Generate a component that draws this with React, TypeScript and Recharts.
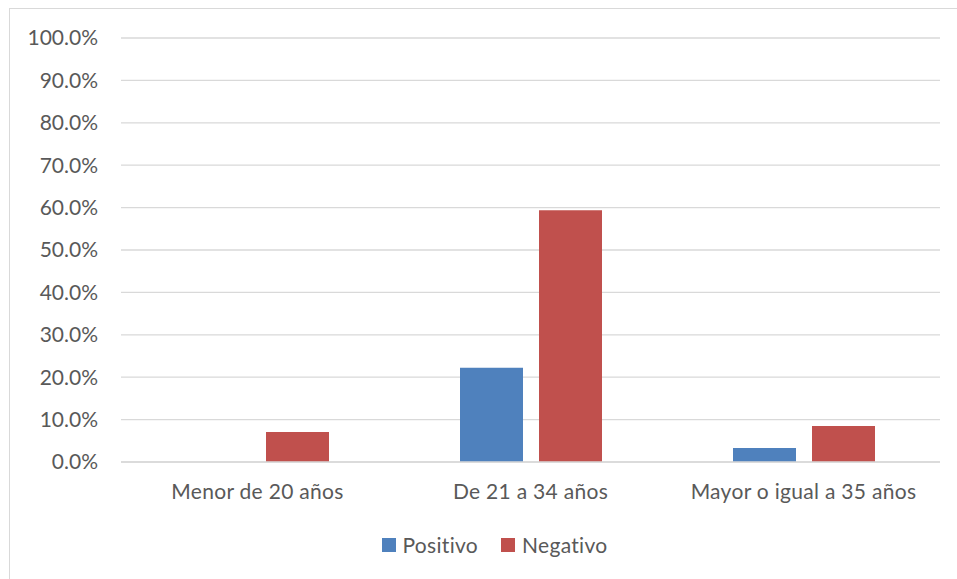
import React from "react";
import { BarChart, Bar, XAxis, YAxis, CartesianGrid, Legend } from "recharts";

const categorias = ["Menor de 20 años", "De 21 a 34 años", "Mayor o igual a 35 años"];
const positivo = [0, 0.222, 0.033];
const negativo = [0.071, 0.594, 0.085];
const yTicks = [0, 0.1, 0.2, 0.3, 0.4, 0.5, 0.6, 0.7, 0.8, 0.9, 1];
const series = [
  { key: "Positivo", color: "#4F81BD" },
  { key: "Negativo", color: "#C0504D" },
];

const data = categorias.map((cat, i) => ({
  cat,
  Positivo: positivo[i],
  Negativo: negativo[i],
}));

const FONT = "Lato, 'Open Sans', sans-serif";
const TEXT = "#595959";
const GRID = "#D9D9D9";

// legend drawn in series order (recharts sorts by name otherwise)
function Leyenda() {
  return (
    <div style={{ display: "flex", justifyContent: "center", alignItems: "center", gap: 23, paddingLeft: 32, fontSize: 21, color: TEXT, fontFamily: FONT, letterSpacing: 0.3 }}>
      {series.map((s) => (
        <div key={s.key} style={{ display: "flex", alignItems: "center", gap: 7 }}>
          <span style={{ width: 14, height: 14, background: s.color, display: "inline-block" }} />
          <span>{s.key}</span>
        </div>
      ))}
    </div>
  );
}

export default function App() {
  return (
    <div style={{ position: "absolute", left: 0, top: 0, width: 957, height: 579, background: "#fff", fontFamily: FONT, overflow: "hidden" }}>
      <div
        style={{
          position: "absolute",
          left: 9,
          top: 8,
          width: 960,
          height: 590,
          border: `1px solid ${GRID}`,
        }}
      />
      <BarChart
        width={957}
        height={579}
        data={data}
        margin={{ top: 38, right: 17, bottom: 62, left: 0 }}
        barGap={16}
        barCategoryGap={66}
        style={{ position: "absolute", left: 0, top: 0 }}
      >
        <CartesianGrid vertical={false} stroke={GRID} strokeWidth={1.3} />
        <XAxis
          dataKey="cat"
          axisLine={{ stroke: GRID, strokeWidth: 1.3 }}
          tickLine={false}
          tickMargin={16}
          tick={{ fill: TEXT, fontSize: 21, fontFamily: FONT, letterSpacing: 0.3 }}
          interval={0}
        />
        <YAxis
          width={121}
          domain={[0, 1]}
          ticks={yTicks}
          interval={0}
          axisLine={false}
          tickLine={false}
          tickMargin={17}
          tickFormatter={(v: number) => (v * 100).toFixed(1) + "%"}
          tick={{ fill: TEXT, fontSize: 21, fontFamily: FONT }}
        />
        <Legend
          verticalAlign="bottom"
          content={<Leyenda />}
          wrapperStyle={{ top: 532, left: 0, width: 957 }}
        />
        {series.map((s) => (
          <Bar key={s.key} dataKey={s.key} fill={s.color} isAnimationActive={false} />
        ))}
      </BarChart>
    </div>
  );
}
